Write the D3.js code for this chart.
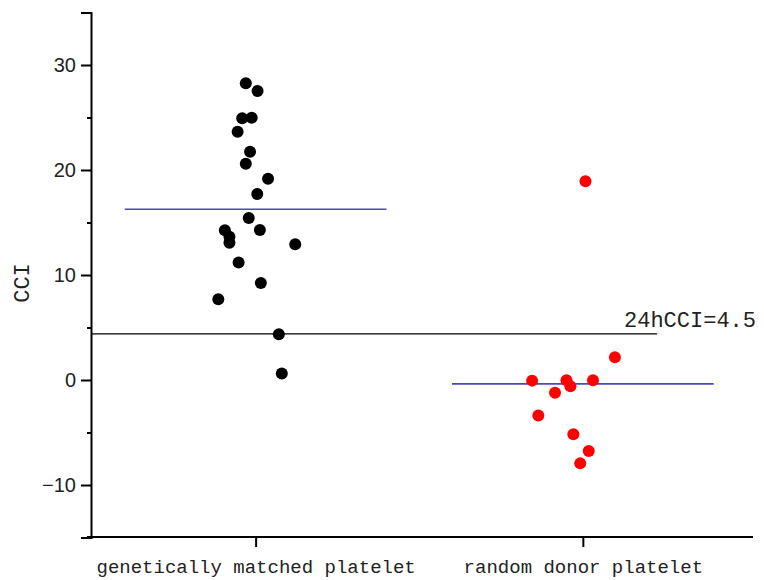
<!DOCTYPE html>
<html>
<head>
<meta charset="utf-8">
<script src="https://cdn.jsdelivr.net/npm/d3@7"></script>
<style>
  html, body { margin: 0; padding: 0; background: #fff; }
  svg { display: block; }
</style>
</head>
<body>
<svg id="chart" width="764" height="580"></svg>
<script>
// ---- data ----
const categories = ["genetically matched platelet", "random donor platelet"];
const matchedCCI = [28.26, 27.52, 24.92, 24.98, 23.65, 21.74, 20.6, 19.17, 17.71, 15.43,
                    14.29, 14.26, 13.65, 13.08, 12.92, 11.2, 9.24, 7.69, 4.35, 0.63];
const matchedJitter = [-0.030, 0.006, -0.041, -0.012, -0.055, -0.017, -0.030, 0.038, 0.005, -0.021,
                       0.013, -0.094, -0.080, -0.080, 0.121, -0.052, 0.016, -0.114, 0.071, 0.080];
const randomCCI = [2.16, -0.06, -0.03, -0.03, -0.6, -1.21, -3.37, -5.17, -6.76, -7.94, 18.92];
const randomJitter = [0.098, -0.155, -0.050, 0.031, -0.038, -0.085, -0.136, -0.029, 0.018, -0.008, 0.008];
const yTicks = [-10, 0, 10, 20, 30];
const yMinorTicks = [-5, 5, 15, 25];
const thresholdValue = 4.4;
const thresholdLabel = "24hCCI=4.5";
const yLabel = "CCI";

// ---- layout ----
const svg = d3.select("#chart");
const x = d3.scaleLinear().domain([0.5, 2.52]).range([92, 753]);
const y = d3.scaleLinear().domain([-15, 35]).range([537.5, 12.5]);

const groups = [
  { cat: 1, values: matchedCCI, jitter: matchedJitter, color: "#000000" },
  { cat: 2, values: randomCCI, jitter: randomJitter, color: "#ff0000" }
];

// y axis
const yAxis = svg.append("g").attr("transform", "translate(91,0)")
  .call(d3.axisLeft(y).tickValues(yTicks).tickSize(10).tickPadding(5)
    .tickFormat(d => d < 0 ? "\u2212" + Math.abs(d) : d));
yAxis.select(".domain").attr("stroke-width", 2);
yAxis.selectAll(".tick line").attr("stroke-width", 2);
yAxis.selectAll(".tick text").attr("font-family", "Liberation Sans, Arial, sans-serif")
  .attr("font-size", 20).attr("fill", "#222");
const yMinor = svg.append("g").attr("transform", "translate(91,0)")
  .call(d3.axisLeft(y).tickValues(yMinorTicks).tickSize(4).tickFormat(""));
yMinor.select(".domain").remove();
yMinor.selectAll(".tick line").attr("stroke-width", 2);

// x axis
const xAxis = svg.append("g").attr("transform", "translate(0,537)")
  .call(d3.axisBottom(x).tickValues([1, 2]).tickSize(10).tickPadding(13)
    .tickFormat((d) => categories[d - 1]));
xAxis.select(".domain").attr("stroke-width", 2).attr("d", "M87,0H753");
xAxis.selectAll(".tick line").attr("stroke-width", 2);
xAxis.selectAll(".tick text").attr("font-family", "Liberation Mono, monospace")
  .attr("font-size", 19).attr("fill", "#222");

// y label
svg.append("text")
  .attr("transform", "translate(29,283) rotate(-90)")
  .attr("text-anchor", "middle")
  .attr("font-family", "Liberation Mono, monospace")
  .attr("font-size", 22).attr("fill", "#222")
  .text(yLabel);

// threshold line
svg.append("line")
  .attr("x1", x(0.5)).attr("x2", x(2.227))
  .attr("y1", y(thresholdValue)).attr("y2", y(thresholdValue))
  .attr("stroke", "#000").attr("stroke-width", 1.2);
svg.append("text")
  .attr("x", 624).attr("y", 327)
  .attr("font-family", "Liberation Mono, monospace")
  .attr("font-size", 22).attr("fill", "#222")
  .text(thresholdLabel);

// mean lines
groups.forEach(g => {
  const m = d3.mean(g.values);
  svg.append("line")
    .attr("x1", x(g.cat - 0.4)).attr("x2", x(g.cat + 0.4))
    .attr("y1", y(m)).attr("y2", y(m))
    .attr("stroke", "#4b4bb8").attr("stroke-width", 1.6);
});

// dots
groups.forEach(g => {
  svg.append("g").selectAll("circle")
    .data(g.values.map((v, i) => ({ v, j: g.jitter[i] })))
    .join("circle")
    .attr("cx", d => x(g.cat + d.j))
    .attr("cy", d => y(d.v))
    .attr("r", 6)
    .attr("fill", g.color);
});
</script>
</body>
</html>
